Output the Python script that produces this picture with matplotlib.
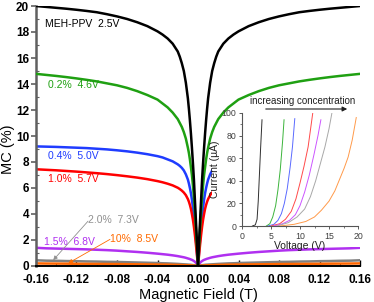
import numpy as np
import matplotlib
matplotlib.use("Agg")
import matplotlib.pyplot as plt
from matplotlib.patches import Rectangle, FancyArrowPatch

plt.rcParams['font.family'] = ['Liberation Sans', 'DejaVu Sans']

# ---------------- main-panel data (B >= 0, mirrored for B < 0) ----------------
field_pos = [0, 0.0005, 0.001, 0.0015, 0.002, 0.003, 0.004, 0.005, 0.006, 0.007, 0.008,
             0.009, 0.01, 0.012, 0.014, 0.016, 0.018, 0.02, 0.025, 0.03, 0.035, 0.04,
             0.05, 0.06, 0.07, 0.08, 0.09, 0.10, 0.11, 0.12, 0.13, 0.14, 0.15, 0.16]
mc_meh = [0, 0.9, 1.8, 2.6, 3.4, 5.0, 6.6, 7.9, 9.1, 10.2, 11.2, 12.1, 12.9, 14.1, 15.0,
          15.6, 16.1, 16.5, 17.1, 17.5, 17.8, 18.05, 18.45, 18.75, 19.0, 19.2, 19.37,
          19.52, 19.62, 19.71, 19.79, 19.86, 19.93, 20.0]
mc_02 = [0, 0.7, 1.4, 2.1, 2.8, 4.1, 5.2, 6.2, 7.0, 7.6, 8.2, 8.7, 9.1, 9.8, 10.3, 10.7,
         11.0, 11.3, 11.8, 12.2, 12.5, 12.8, 13.15, 13.45, 13.7, 13.9, 14.05, 14.2, 14.32,
         14.43, 14.53, 14.62, 14.7, 14.78]
mc_04 = [0, 0.5, 1.0, 1.5, 2.0, 2.9, 3.8, 4.5, 5.1, 5.6, 6.0, 6.35, 6.65, 7.05, 7.35,
         7.55, 7.7, 7.82, 8.05, 8.2, 8.35, 8.45, 8.6, 8.72, 8.82, 8.9, 8.97, 9.02, 9.07,
         9.1, 9.13, 9.16, 9.18, 9.2]
mc_10 = [0, 0.4, 0.8, 1.2, 1.6, 2.35, 3.0, 3.55, 4.0, 4.4, 4.7, 4.95, 5.15, 5.45, 5.65,
         5.8, 5.92, 6.02, 6.2, 6.33, 6.44, 6.53, 6.68, 6.8, 6.9, 6.99, 7.07, 7.14, 7.2,
         7.26, 7.31, 7.36, 7.4, 7.44]
mc_15 = [0, 0.06, 0.12, 0.18, 0.24, 0.32, 0.38, 0.43, 0.47, 0.5, 0.53, 0.56, 0.58, 0.63,
         0.67, 0.7, 0.73, 0.76, 0.82, 0.87, 0.91, 0.95, 1.02, 1.08, 1.13, 1.18, 1.22, 1.25,
         1.28, 1.3, 1.32, 1.34, 1.36, 1.4]
mc_20 = [0, 0.01, 0.02, 0.03, 0.04, 0.05, 0.06, 0.07, 0.08, 0.09, 0.1, 0.1, 0.11, 0.12,
         0.13, 0.14, 0.15, 0.16, 0.18, 0.2, 0.21, 0.23, 0.25, 0.27, 0.29, 0.31, 0.32, 0.34,
         0.35, 0.37, 0.38, 0.4, 0.41, 0.44]
mc_100 = [0, 0.005, 0.01, 0.015, 0.02, 0.025, 0.03, 0.035, 0.04, 0.045, 0.05, 0.05, 0.055,
          0.06, 0.065, 0.07, 0.075, 0.08, 0.09, 0.1, 0.105, 0.11, 0.12, 0.13, 0.14, 0.15,
          0.155, 0.16, 0.165, 0.17, 0.18, 0.185, 0.19, 0.2]

# (values, colour, drawn above the inset background?)
series_main = [
    (mc_04, '#1f3cff', False), (mc_10, '#ff0000', False),
    (mc_15, '#b030f0', False), (mc_20, '#808080', False), (mc_100, '#ff6600', False),
    (mc_02, '#1fa012', True), (mc_meh, '#000000', True),
]

# ---------------- inset data: I-V curves ----------------
v_meh = [1.8, 2.3, 2.6, 2.8, 3.0, 3.2, 3.45]
i_meh = [0, 1, 6, 22, 45, 68, 94]
v_02 = [4.2, 4.8, 5.3, 5.8, 6.2, 6.6, 7.0, 7.25]
i_02 = [0, 2, 8, 18, 32, 50, 75, 94]
v_04 = [4.5, 5.5, 6.2, 6.8, 7.3, 7.8, 8.3, 8.7, 9.1]
i_04 = [0, 1.5, 5, 11, 20, 33, 52, 70, 95]
v_10 = [5.0, 6.5, 7.5, 8.5, 9.3, 10.0, 10.7, 11.4, 12.2]
i_10 = [0, 2, 6, 13, 24, 38, 53, 70, 100]
v_15 = [5.5, 7.0, 8.2, 9.2, 10.0, 10.8, 11.6, 12.4, 13.1, 13.6]
i_15 = [0, 2, 5, 10, 18, 30, 45, 63, 80, 94]
v_20 = [6.0, 8.0, 9.5, 10.8, 11.8, 12.7, 13.5, 14.3, 15.0, 15.5]
i_20 = [0, 3, 8, 15, 26, 40, 55, 70, 86, 100]
v_100 = [6.5, 9.0, 11.0, 12.5, 13.7, 15.0, 16.0, 16.8, 17.6, 18.3, 19.0, 19.7]
i_100 = [0, 1.5, 4, 8, 14, 22, 31, 41, 51, 61, 76, 96]

series_inset = [
    (v_meh, i_meh, '#303030'), (v_02, i_02, '#3cb43c'), (v_04, i_04, '#5a6aff'),
    (v_10, i_10, '#ff4a4a'), (v_15, i_15, '#cc55ff'), (v_20, i_20, '#a8a8a8'),
    (v_100, i_100, '#ff9a4a'),
]

W, H = 374, 302
fig = plt.figure(figsize=(W / 100, H / 100), dpi=100)

def px_rect(x0, y_top, x1, y_bot):
    return [x0 / W, (H - y_bot) / H, (x1 - x0) / W, (y_bot - y_top) / H]

ax = fig.add_axes(px_rect(36, 6, 360, 266))
fp = np.array(field_pos)
B = np.concatenate([-fp[::-1], fp[1:]])
for vals, col, top in series_main:
    v = np.array(vals)
    y = np.concatenate([v[::-1], v[1:]])
    ax.plot(B, y, color=col, lw=1.8, solid_joinstyle='round',
            zorder=3 if top else 2)

# white background of the inset panel (covers the main curves beneath it)
bg = Rectangle((212 / W, (H - 247) / H), 162 / W, (247 - 105) / H,
               transform=fig.transFigure, facecolor='white', edgecolor='none',
               zorder=2.5, clip_on=False)
ax.add_patch(bg)

ax.set_xlim(-0.16, 0.16)
ax.set_ylim(0, 20)
ax.set_xticks(np.arange(-0.16, 0.161, 0.04))
ax.set_xticklabels(['-0.16', '-0.12', '-0.08', '-0.04', '0.00', '0.04', '0.08', '0.12', '0.16'])
ax.set_xticks(np.arange(-0.16, 0.161, 0.02), minor=True)
ax.set_yticks(np.arange(0, 21, 2))
ax.set_yticks(np.arange(0, 21, 1), minor=True)
for lab in ax.get_xticklabels() + ax.get_yticklabels():
    lab.set_fontweight('bold')
    lab.set_fontsize(8.5)
ax.tick_params(axis='x', which='major', direction='in', length=4, width=1, pad=5.5)
ax.tick_params(axis='x', which='minor', direction='in', length=2.5, width=0.8)
ax.tick_params(axis='y', which='major', direction='out', length=3.5, width=1.2, pad=1.5, color='#606060')
ax.tick_params(axis='y', which='minor', direction='in', length=2.5, width=0.8, color='#606060')
ax.spines['top'].set_visible(False)
ax.spines['right'].set_visible(False)
ax.spines['left'].set_color('#606060')
ax.spines['left'].set_linewidth(1.8)
ax.spines['bottom'].set_linewidth(1.4)
ax.spines['bottom'].set_zorder(4)
ax.set_xlabel('Magnetic Field (T)', fontsize=10.5, labelpad=2)
ax.set_ylabel('MC (%)', fontsize=10.5)
ax.yaxis.set_label_coords((15 - 36) / 324, (266 - 149) / 260)

# curve labels
lbl_kw = dict(fontsize=7.5, va='center', ha='left', zorder=5)
ax.text(-0.151, 18.6, 'MEH-PPV  2.5V', color='#000000', **lbl_kw)
ax.text(-0.148, 13.9, '0.2%  4.6V', color='#1fa012', **lbl_kw)
ax.text(-0.148, 8.46, '0.4%  5.0V', color='#1f3cff', **lbl_kw)
ax.text(-0.148, 6.67, '1.0%  5.7V', color='#ff0000', **lbl_kw)
ax.text(-0.152, 1.82, '1.5%  6.8V', color='#b030f0', **lbl_kw)
ax.text(-0.1086, 3.51, '2.0%  7.3V', color='#909090', **lbl_kw)
ax.text(-0.0869, 2.09, '10%  8.5V', color='#ff6a00', **lbl_kw)
ax.annotate('', xy=(-0.143, 0.45), xytext=(-0.1086, 3.45),
            arrowprops=dict(arrowstyle='-|>', color='#909090', lw=0.6,
                            mutation_scale=6, shrinkA=0, shrinkB=0))
ax.annotate('', xy=(-0.128, 0.22), xytext=(-0.0869, 2.05),
            arrowprops=dict(arrowstyle='-|>', color='#ff6a00', lw=0.6,
                            mutation_scale=6, shrinkA=0, shrinkB=0))

# ---------------- inset ----------------
ins = fig.add_axes(px_rect(242, 113, 358, 226))
ins.patch.set_alpha(0)
for vv, ii, col in series_inset:
    ins.plot(vv, ii, color=col, lw=0.7)
ins.set_xlim(0, 20)
ins.set_ylim(0, 100)
ins.set_xticks([0, 5, 10, 15, 20])
ins.set_xticks(np.arange(0, 20.1, 2.5), minor=True)
ins.set_yticks([0, 20, 40, 60, 80, 100])
ins.set_yticks(np.arange(0, 101, 10), minor=True)
ins.tick_params(which='major', direction='out', length=2.5, width=0.6, labelsize=6.3,
                colors='#404040', pad=1.5)
ins.tick_params(which='minor', direction='out', length=1.5, width=0.5, colors='#404040')
ins.spines['top'].set_visible(False)
ins.spines['right'].set_visible(False)
for s in ('left', 'bottom'):
    ins.spines[s].set_color('#555555')
    ins.spines[s].set_linewidth(0.8)
ins.set_xlabel('Voltage (V)', fontsize=7.5, labelpad=0, color='#202020')
ins.set_ylabel('Current (\u00b5A)', fontsize=7.5, labelpad=1, color='#202020')

fig.text(303 / W, (H - 101.5) / H, 'increasing concentration', fontsize=7,
         ha='center', va='center', color='#202020')
fig.add_artist(FancyArrowPatch(
    (263 / W, (H - 109) / H), (350 / W, (H - 109) / H), transform=fig.transFigure,
    arrowstyle='-|>', mutation_scale=7, lw=0.8, color='#202020'))

fig.savefig('out.png', dpi=100)
